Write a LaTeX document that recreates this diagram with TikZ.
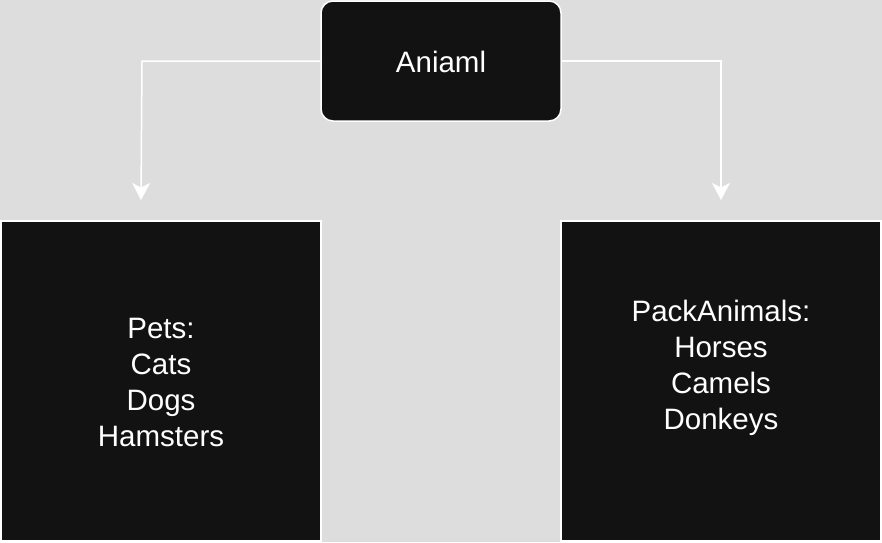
\documentclass[tikz,border=0pt]{standalone}
\usepackage{fontspec}
\setmainfont{Liberation Sans}
\usepackage{xcolor}
\usetikzlibrary{arrows.meta,positioning}

\definecolor{bgGray}{HTML}{DDDDDD}
\definecolor{boxBlack}{HTML}{121212}

\tikzset{
  darkbox/.style={draw=white, line width=1.5pt, fill=boxBlack, text=white,
    align=center, inner sep=0pt,
    font=\fontsize{29.5}{36}\selectfont},
  link/.style={->, draw=white, line width=1.5pt}
}

\begin{document}
\begin{tikzpicture}[>={Stealth[length=17pt,width=18pt,inset=4.5pt]}, x=1pt, y=-1pt]
% background
\fill[bgGray] (0,0) rectangle (882,542);
\useasboundingbox (0,0) rectangle (882,542);

\node[darkbox, rounded corners=12pt, minimum width=240pt, minimum height=120pt] (animal) at (441,61) {};
\node[text=white, font=\fontsize{29.5}{36}\selectfont] (animalText) at (441,62) {Aniaml};

\node[darkbox, minimum width=320pt, minimum height=320pt] (pets) at (161,381) {};
\node[darkbox, minimum width=320pt, minimum height=320pt] (pack) at (721,381) {};
\node[text=white, align=center, font=\fontsize{29.5}{36}\selectfont] (petsText) at (161,382)
  {Pets:\\Cats\\Dogs\\Hamsters};
\node[text=white, align=center, font=\fontsize{29.5}{36}\selectfont] (packText) at (721,368)
  {PackAnimals:\\Horses\\Camels\\Donkeys};

% connectors
\coordinate (petsEnd) at (141,200);
\coordinate (packEnd) at (721,200);
\draw[link] (animal.west) -- (142,61) -- (petsEnd);
\draw[link] (animal.east) -| (packEnd);
\end{tikzpicture}
\end{document}
